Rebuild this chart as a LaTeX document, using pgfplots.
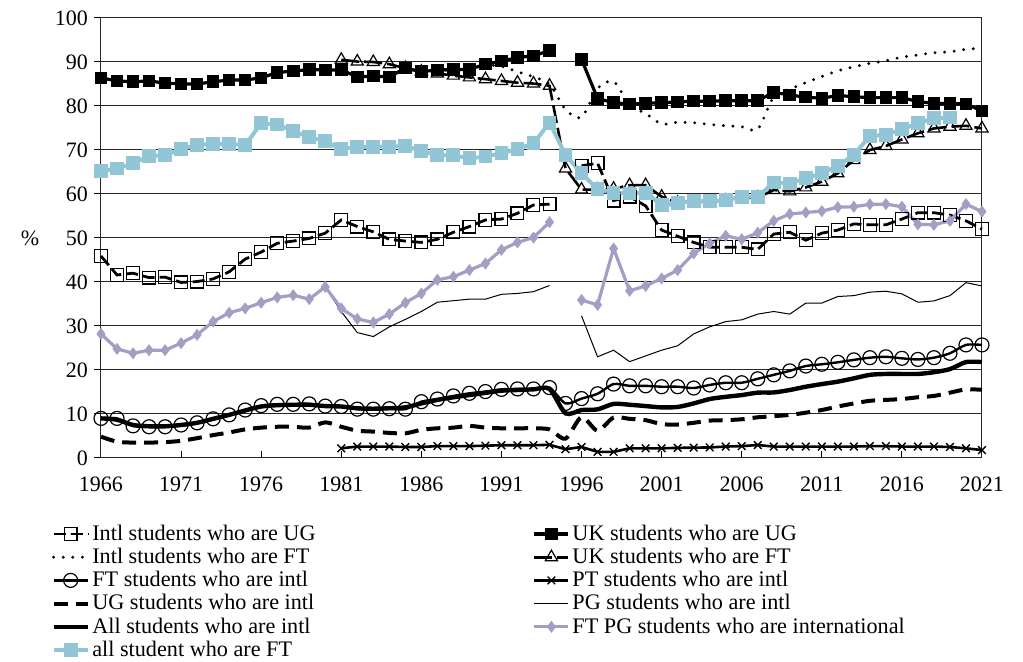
\documentclass[border=0pt]{standalone}
\usepackage{fontspec}
\setmainfont{Liberation Serif}
\usepackage{pgfplots}
\pgfplotsset{compat=1.18}
\definecolor{ltblue}{RGB}{146,197,214}
\definecolor{lav}{RGB}{167,157,196}
\newcommand{\lent}[1]{\makebox[219pt][l]{\rule[-2.4pt]{0pt}{9.2pt}#1}}
\begin{document}
\begin{tikzpicture}
\useasboundingbox (-50.5pt,-102pt) rectangle (461pt,229pt);
\begin{axis}[
  at={(0,0)}, anchor=south west,
  scale only axis, width=440.5pt, height=220pt,
  xmin=1966, xmax=2021, ymin=0, ymax=100,
  clip=false,
  unbounded coords=jump,
  xtick={1966,1971,...,2021},
  ytick={0,10,...,100},
  xtick pos=left, ytick pos=left,
  tick align=inside,
  major tick length=3.5pt,
  ytick style={xshift=-3.5pt, black, line width=0.5pt},
  xtick style={black, line width=0.5pt},
  ymajorgrids,
  major grid style={black!85, line width=0.5pt},
  axis line style={black!85, line width=0.5pt},
  /pgf/number format/1000 sep={},
  /pgf/number format/assume math mode=true,
  ticklabel style={font=\fontsize{11}{12}\selectfont},
  yticklabel style={xshift=-3pt},
  xticklabel style={yshift=-6pt},
  ylabel={\%},
  y label style={at={(axis description cs:0,0.5)}, rotate=-90, anchor=center, xshift=-35.5pt, font=\fontsize{11}{12}\selectfont},
  legend columns=2,
  legend cell align=left,
  legend style={at={(axis description cs:0,0)}, anchor=north west, xshift=-25pt, yshift=-32pt,
    draw=none, fill=none, inner sep=0pt, row sep=0pt,
    font=\fontsize{11.1}{12}\selectfont,
    nodes={inner sep=1.2pt}},
]
% 1 Intl UG
\addplot[black, line width=1.4pt, dash pattern=on 6pt off 2.5pt, mark=square, mark size=3.2pt, mark options={solid, line width=0.6pt}] table {
1966 45.9
1967 41.6
1968 42.0
1969 41.0
1970 41.1
1971 39.9
1972 40.1
1973 40.7
1974 42.3
1975 45.2
1976 46.8
1977 48.8
1978 49.3
1979 49.9
1980 51.1
1981 54.1
1982 52.6
1983 51.4
1984 49.7
1985 49.3
1986 49.0
1987 49.7
1988 51.3
1989 52.6
1990 54.1
1991 54.3
1992 55.6
1993 57.5
1994 57.7
1995 nan
1996 66.4
1997 67.0
1998 58.5
1999 59.4
2000 57.3
2001 51.8
2002 50.4
2003 49.0
2004 47.9
2005 47.9
2006 47.9
2007 47.4
2008 50.9
2009 51.3
2010 49.5
2011 51.1
2012 51.8
2013 53.2
2014 53.0
2015 53.0
2016 54.3
2017 55.75
2018 55.75
2019 55.2
2020 53.9
2021 52.0
};
\addlegendentry{\lent{Intl students who are UG}}
% 2 UK UG
\addplot[black, line width=1.6pt, mark=square*, mark size=2.9pt, mark options={solid, line width=0.5pt}] table {
1966 86.4
1967 85.7
1968 85.5
1969 85.7
1970 85.2
1971 85.0
1972 85.0
1973 85.5
1974 85.9
1975 85.9
1976 86.4
1977 87.6
1978 87.95
1979 88.25
1980 88.2
1981 88.2
1982 86.6
1983 86.8
1984 86.6
1985 88.6
1986 87.8
1987 88.2
1988 88.3
1989 88.3
1990 89.5
1991 90.2
1992 91.0
1993 91.4
1994 92.6
1995 nan
1996 90.6
1997 81.7
1998 80.75
1999 80.45
2000 80.6
2001 80.75
2002 80.9
2003 81.1
2004 81.1
2005 81.2
2006 81.2
2007 81.2
2008 83.1
2009 82.5
2010 82.0
2011 81.75
2012 82.4
2013 82.1
2014 81.9
2015 81.9
2016 81.9
2017 81.0
2018 80.6
2019 80.6
2020 80.45
2021 78.9
};
\addlegendentry{UK students who are UG}
% 3 Intl FT
\addplot[black, line width=1.6pt, line cap=round, dash pattern=on 0pt off 4.8pt, smooth, tension=0.45] table {
1984 87.0
1985 88.3
1986 88.0
1987 88.0
1988 88.3
1989 88.8
1990 89.3
1991 89.0
1992 87.8
1993 86.6
1994 85.0
1995 79.2
1996 77.4
1997 84.0
1998 85.6
1999 80.3
2000 78.3
2001 75.9
2002 76.3
2003 76.2
2004 75.8
2005 75.5
2006 75.3
2007 74.7
2008 82.1
2009 83.8
2010 85.3
2011 86.7
2012 88.0
2013 88.9
2014 89.7
2015 90.3
2016 91.1
2017 91.6
2018 92.1
2019 92.3
2020 92.9
2021 93.1
};
\addlegendentry{\lent{Intl students who are FT}}
% 4 UK FT
\addplot[black, line width=1.3pt, dash pattern=on 9pt off 2.5pt, mark=triangle, mark size=3.5pt, mark options={solid, line width=0.6pt}] table {
1981 90.5
1982 90.1
1983 90.0
1984 89.5
1985 88.6
1986 87.8
1987 87.4
1988 86.9
1989 86.5
1990 86.1
1991 85.7
1992 85.3
1993 85.1
1994 84.6
1995 65.8
1996 61.0
1997 61.0
1998 61.2
1999 62.0
2000 62.0
2001 59.4
2002 58.0
2003 58.1
2004 58.3
2005 58.5
2006 59.1
2007 59.2
2008 60.9
2009 60.6
2010 61.5
2011 62.8
2012 64.7
2013 67.7
2014 70.0
2015 70.9
2016 72.4
2017 73.8
2018 74.9
2019 75.3
2020 75.5
2021 74.9
};
\addlegendentry{UK students who are FT}
% 5 FT intl
\addplot[black, line width=1.2pt, smooth, tension=0.45, mark=o, mark size=3.5pt, mark options={line width=0.6pt}] table {
1966 9.0
1967 9.0
1968 7.3
1969 7.1
1970 7.1
1971 7.5
1972 8.0
1973 8.9
1974 9.8
1975 10.9
1976 11.9
1977 12.2
1978 12.2
1979 12.3
1980 11.8
1981 11.7
1982 11.1
1983 11.1
1984 11.2
1985 11.1
1986 12.8
1987 13.4
1988 14.1
1989 14.7
1990 15.1
1991 15.6
1992 15.7
1993 15.7
1994 16.0
1995 12.4
1996 13.5
1997 14.6
1998 16.8
1999 16.4
2000 16.4
2001 16.2
2002 16.2
2003 15.9
2004 16.6
2005 17.1
2006 17.1
2007 18.0
2008 18.9
2009 19.8
2010 20.9
2011 21.3
2012 21.75
2013 22.3
2014 22.8
2015 23.0
2016 22.65
2017 22.4
2018 22.8
2019 23.8
2020 25.7
2021 25.7
};
\addlegendentry{\lent{FT students who are intl}}
% 6 PT intl
\addplot[black, line width=1.3pt, mark=x, mark size=2.7pt, mark options={line width=0.7pt}] table {
1981 2.2
1982 2.6
1983 2.6
1984 2.6
1985 2.5
1986 2.5
1987 2.7
1988 2.7
1989 2.7
1990 2.8
1991 2.9
1992 2.9
1993 2.9
1994 3.0
1995 2.0
1996 2.5
1997 1.4
1998 1.4
1999 2.2
2000 2.2
2001 2.2
2002 2.3
2003 2.35
2004 2.4
2005 2.6
2006 2.7
2007 2.95
2008 2.6
2009 2.6
2010 2.6
2011 2.6
2012 2.6
2013 2.6
2014 2.7
2015 2.7
2016 2.6
2017 2.6
2018 2.6
2019 2.5
2020 2.2
2021 1.8
};
\addlegendentry{PT students who are intl}
% 7 UG intl
\addplot[black, line width=2pt, dash pattern=on 7pt off 4pt, smooth, tension=0.45] table {
1966 4.85
1967 3.7
1968 3.5
1969 3.5
1970 3.6
1971 3.9
1972 4.5
1973 5.2
1974 5.8
1975 6.5
1976 6.9
1977 7.1
1978 7.1
1979 6.9
1980 8.1
1981 7.1
1982 6.2
1983 6.0
1984 5.7
1985 5.6
1986 6.4
1987 6.75
1988 6.9
1989 7.3
1990 6.9
1991 6.75
1992 6.75
1993 6.75
1994 6.5
1995 4.4
1996 9.3
1997 6.2
1998 9.2
1999 8.9
2000 8.6
2001 7.7
2002 7.6
2003 8.0
2004 8.5
2005 8.6
2006 8.8
2007 9.25
2008 9.5
2009 9.8
2010 10.3
2011 10.9
2012 11.7
2013 12.4
2014 13.0
2015 13.2
2016 13.4
2017 13.8
2018 14.1
2019 14.85
2020 15.6
2021 15.5
};
\addlegendentry{\lent{UG students who are intl}}
% 8 PG intl
\addplot[black, line width=0.5pt] table {
1980 38.9
1981 33.3
1982 28.5
1983 27.6
1984 29.8
1985 31.5
1986 33.3
1987 35.4
1988 35.75
1989 36.1
1990 36.1
1991 37.2
1992 37.4
1993 37.8
1994 39.2
1995 nan
1996 32.3
1997 23.0
1998 24.5
1999 21.9
2000 23.2
2001 24.5
2002 25.5
2003 28.2
2004 29.8
2005 31.0
2006 31.4
2007 32.7
2008 33.3
2009 32.7
2010 35.2
2011 35.2
2012 36.7
2013 36.9
2014 37.7
2015 37.9
2016 37.3
2017 35.4
2018 35.7
2019 36.9
2020 39.85
2021 39.1
};
\addlegendentry{PG students who are intl}
% 9 All intl
\addplot[black, line width=2.2pt, smooth, tension=0.45] table {
1966 9.0
1967 8.7
1968 7.5
1969 7.2
1970 7.2
1971 7.5
1972 8.0
1973 8.9
1974 9.8
1975 10.8
1976 11.7
1977 12.0
1978 12.1
1979 12.1
1980 11.8
1981 11.7
1982 11.3
1983 11.2
1984 11.3
1985 11.5
1986 12.4
1987 13.2
1988 13.8
1989 14.3
1990 14.8
1991 15.3
1992 15.45
1993 15.6
1994 15.7
1995 10.15
1996 10.9
1997 11.05
1998 12.3
1999 12.1
2000 11.8
2001 11.5
2002 11.6
2003 12.4
2004 13.4
2005 13.9
2006 14.3
2007 14.85
2008 14.9
2009 15.45
2010 16.2
2011 16.8
2012 17.35
2013 18.1
2014 18.9
2015 19.1
2016 19.1
2017 19.1
2018 19.5
2019 20.2
2020 21.8
2021 21.8
};
\addlegendentry{\lent{All students who are intl}}
% 10 FT PG intl
\addplot[lav, line width=1.6pt, mark=diamond*, mark size=2.7pt, mark options={solid, line width=0.4pt}] table {
1966 28.2
1967 24.8
1968 23.8
1969 24.5
1970 24.5
1971 26.1
1972 28.0
1973 31.0
1974 33.0
1975 34.0
1976 35.3
1977 36.5
1978 37.0
1979 36.1
1980 38.9
1981 34.0
1982 31.6
1983 30.8
1984 32.7
1985 35.3
1986 37.4
1987 40.5
1988 41.2
1989 42.7
1990 44.2
1991 47.3
1992 49.0
1993 50.1
1994 53.6
1995 nan
1996 35.9
1997 34.8
1998 47.6
1999 38.0
2000 39.1
2001 40.8
2002 42.7
2003 46.5
2004 48.8
2005 50.5
2006 49.7
2007 51.2
2008 53.9
2009 55.45
2010 55.8
2011 56.1
2012 57.0
2013 57.1
2014 57.65
2015 57.7
2016 57.1
2017 53.1
2018 53.0
2019 53.9
2020 57.7
2021 56.0
};
\addlegendentry{FT PG students who are international}
% 11 all FT
\addplot[ltblue, line width=2pt, mark=square*, mark size=3.2pt, mark options={solid, line width=0.5pt}] table {
1966 65.2
1967 65.8
1968 67.0
1969 68.6
1970 68.8
1971 70.2
1972 71.1
1973 71.4
1974 71.4
1975 71.1
1976 76.1
1977 75.8
1978 74.3
1979 72.9
1980 72.0
1981 70.2
1982 70.7
1983 70.75
1984 70.75
1985 70.9
1986 69.8
1987 68.8
1988 68.8
1989 68.1
1990 68.5
1991 69.25
1992 70.2
1993 71.5
1994 76.2
1995 68.9
1996 64.7
1997 61.05
1998 60.3
1999 60.1
2000 60.3
2001 57.5
2002 57.9
2003 58.4
2004 58.4
2005 58.6
2006 59.4
2007 59.4
2008 62.6
2009 62.4
2010 63.6
2011 64.7
2012 66.4
2013 68.9
2014 73.2
2015 73.4
2016 74.7
2017 76.1
2018 77.2
2019 77.4
};
\addlegendentry{\lent{all student who are FT}}
\end{axis}
\end{tikzpicture}
\end{document}
